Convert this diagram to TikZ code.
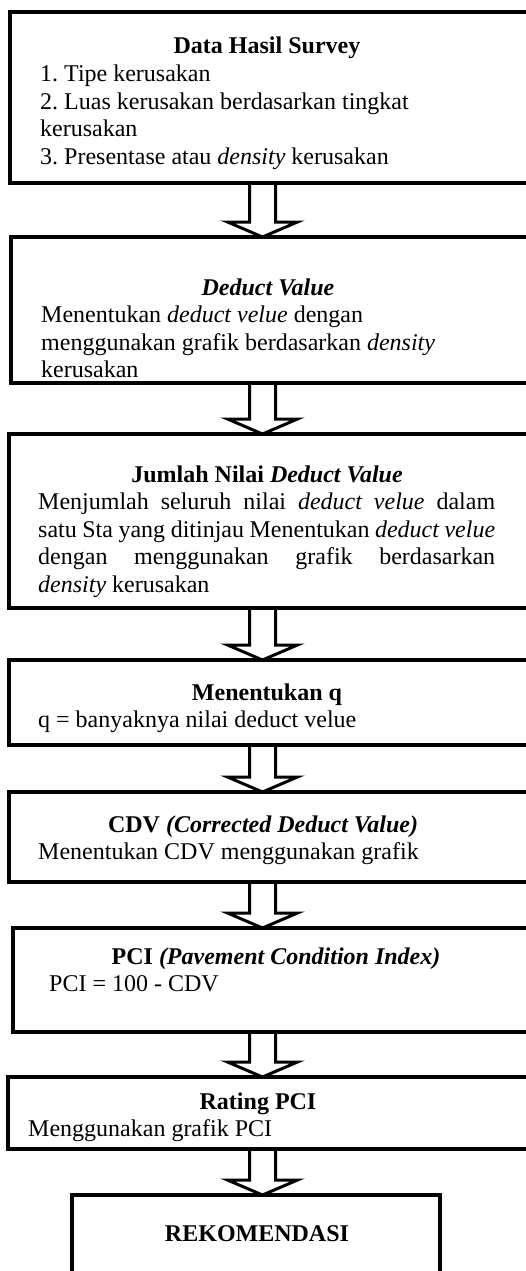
\documentclass[tikz,border=0pt]{standalone}
\usepackage{fontspec}
\setmainfont{Liberation Serif}
\usetikzlibrary{calc}
\frenchspacing
\begin{document}
\begin{tikzpicture}[x=1pt,y=-1pt,
  box/.style={draw, line width=3.5pt, anchor=north west, inner sep=0pt, outer sep=0pt},
  ln/.style={anchor=base west, inner sep=0pt, font=\fontsize{24}{27.6}\selectfont},
  ttl/.style={anchor=base, inner sep=0pt, font=\fontsize{24}{27.6}\selectfont\bfseries},
  blockarrow/.style={line width=3pt, line join=miter,
    to path={let \p1=(\tikztostart), \p2=(\tikztotarget) in
      (\x1-13pt,\y1) -- (\x1-13pt,\y2+15pt) -- (\x1-35pt,\y2+15pt) -- (\x1,\y2)
      -- (\x1+35pt,\y2+15pt) -- (\x1+13pt,\y2+15pt) -- (\x1+13pt,\y1)}}
]
\useasboundingbox (0,0) rectangle (526,1271);
\clip (0,0) rectangle (526,1271);
\fill[white] (0,0) rectangle (526,1271);

% boxes
\node[box, minimum width=540pt, minimum height=171pt] (b1) at (10,12) {};
\node[box, minimum width=540pt, minimum height=146pt] (b2) at (11,237) {};
\node[box, minimum width=540pt, minimum height=174pt] (b3) at (9,434) {};
\node[box, minimum width=540pt, minimum height=85pt] (b4) at (9,660) {};
\node[box, minimum width=540pt, minimum height=90pt] (b5) at (9,792) {};
\node[box, minimum width=540pt, minimum height=104pt] (b6) at (13,928) {};
\node[box, minimum width=540pt, minimum height=72pt] (b7) at (8,1077) {};
\node[box, minimum width=368pt, minimum height=120pt] (b8) at (72,1195) {};

% arrows
\coordinate (ax) at (262.5,0);
\draw[blockarrow] (b1.south -| ax) to (b2.north -| ax);
\draw[blockarrow] (b2.south -| ax) to (b3.north -| ax);
\draw[blockarrow] (b3.south -| ax) to (b4.north -| ax);
\draw[blockarrow] (b4.south -| ax) to (b5.north -| ax);
\draw[blockarrow] (b5.south -| ax) to (b6.north -| ax);
\draw[blockarrow] (b6.south -| ax) to (b7.north -| ax);
\draw[blockarrow] (b7.south -| ax) to (b8.north -| ax);

% box 1
\node[ttl] (t1) at (267,54) {Data Hasil Survey};
\node[ln] (t1a) at (40,81.6) {1. Tipe kerusakan};
\node[ln] (t1b) at (40,109.2) {2. Luas kerusakan berdasarkan tingkat};
\node[ln] (t1c) at (40,136.8) {kerusakan};
\node[ln] (t1d) at (40,164.4) {3. Presentase atau \textit{density} kerusakan};

% box 2
\node[ttl] (t2) at (268,295) {\textit{Deduct Value}};
\node[ln] (t2a) at (41,322.6) {Menentukan \textit{deduct velue} dengan};
\node[ln] (t2b) at (41,350.2) {menggunakan grafik berdasarkan \textit{density}};
\node[ln] (t2c) at (41,377.8) {kerusakan};

% box 3
\node[ttl] (t3) at (267,482) {Jumlah Nilai \textit{Deduct Value}};
\node[ln] (t3a) at (38,509.6) {\makebox[457pt][s]{Menjumlah seluruh nilai \textit{deduct velue} dalam}};
\node[ln] (t3b) at (38,537.2) {\makebox[457pt][s]{satu Sta yang ditinjau Menentukan \textit{deduct velue}}};
\node[ln] (t3c) at (38,564.8) {\makebox[457pt][s]{dengan menggunakan grafik berdasarkan}};
\node[ln] (t3d) at (38,592.4) {\textit{density} kerusakan};

% box 4
\node[ttl] (t4) at (267,700) {Menentukan q};
\node[ln] (t4a) at (38,727.6) {q = banyaknya nilai deduct velue};

% box 5
\node[ttl] (t5) at (263,832) {CDV \textit{(Corrected Deduct Value)}};
\node[ln] (t5a) at (38,859.6) {Menentukan CDV menggunakan grafik};

% box 6
\node[ttl] (t6) at (276,964) {PCI \textit{(Pavement Condition Index)}};
\node[ln] (t6a) at (49,991.6) {PCI = 100 - CDV};

% box 7
\node[ttl] (t7) at (258,1109) {Rating PCI};
\node[ln] (t7a) at (28,1136.6) {Menggunakan grafik PCI};

% box 8
\node[ttl] (t8) at (257,1241) {REKOMENDASI};
\end{tikzpicture}
\end{document}
